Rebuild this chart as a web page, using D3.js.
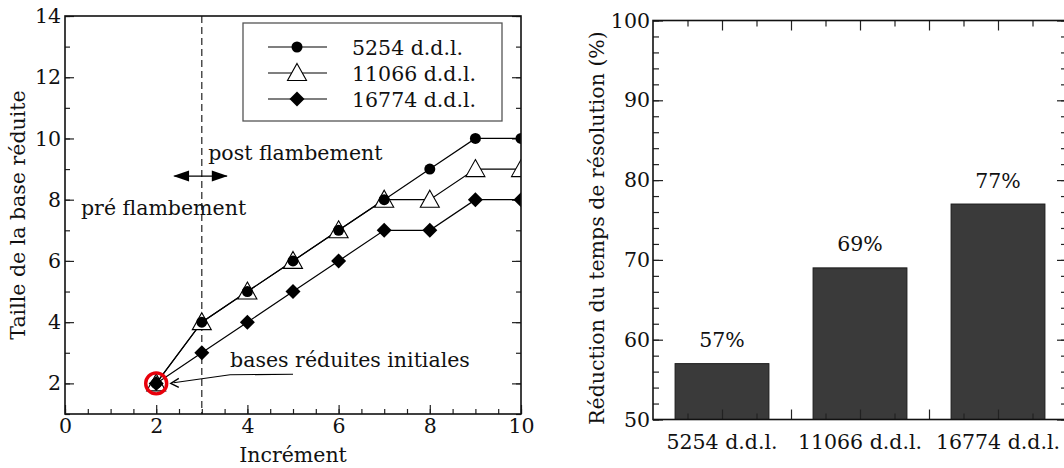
<!DOCTYPE html>
<html>
<head>
<meta charset="utf-8">
<script src="https://cdn.jsdelivr.net/npm/d3@7"></script>
<style>
  body { margin: 0; background: #fff; }
  svg { display: block; }
  text { font-family: "DejaVu Serif", serif; fill: #111; }
</style>
</head>
<body>
<svg id="chart" width="1064" height="468"></svg>
<script>
// left chart: size of the reduced basis per increment
var increments = [2, 3, 4, 5, 6, 7, 8, 9, 10];
var series5254 = [2, 4, 5, 6, 7, 8, 9, 10, 10];
var series11066 = [2, 4, 5, 6, 7, 8, 8, 9, 9];
var series16774 = [2, 3, 4, 5, 6, 7, 7, 8, 8];
var seriesNames = ["5254 d.d.l.", "11066 d.d.l.", "16774 d.d.l."];
var xTicksLeft = [0, 2, 4, 6, 8, 10];
var yTicksLeft = [2, 4, 6, 8, 10, 12, 14];

// right chart: reduction of solving time
var cases = ["5254 d.d.l.", "11066 d.d.l.", "16774 d.d.l."];
var reductions = [57, 69, 77];
var yTicksRight = [50, 60, 70, 80, 90, 100];

var FS = 20.5;
var svg = d3.select("#chart");

// ---------- left plot ----------
var L = { left: 65, right: 521, top: 16, bottom: 414 };

var x = d3.scaleLinear().domain([0, 10]).range([L.left, L.right]);
var y = d3.scaleLinear().domain([1, 14]).range([L.bottom, L.top]);

svg.append("defs").append("clipPath")
  .attr("id", "clipL")
  .append("rect")
  .attr("x", L.left)
  .attr("y", L.top)
  .attr("width", L.right - L.left)
  .attr("height", L.bottom - L.top);

var gl = svg.append("g");

// ticks (inward)
gl.append("g")
  .attr("transform", `translate(0,${L.bottom})`)
  .call(d3.axisBottom(x).tickValues(d3.range(0, 10.01, 0.5)).tickSize(-5).tickFormat(""))
  .call(g => g.select(".domain").remove());
gl.append("g")
  .attr("transform", `translate(0,${L.bottom})`)
  .call(d3.axisBottom(x).tickValues(xTicksLeft).tickSize(-9).tickPadding(4).tickFormat(d3.format("d")))
  .call(g => g.select(".domain").remove());

[L.left, L.right].forEach(function (px, i) {
  var minor = i == 0 ? d3.axisLeft(y) : d3.axisRight(y);
  var major = i == 0 ? d3.axisLeft(y) : d3.axisRight(y);
  gl.append("g")
    .attr("transform", `translate(${px},0)`)
    .call(minor.tickValues(d3.range(1, 14.01, 1)).tickSize(-5).tickFormat(""))
    .call(g => g.select(".domain").remove());
  gl.append("g")
    .attr("transform", `translate(${px},0)`)
    .call(major.tickValues(yTicksLeft).tickSize(-9).tickPadding(4).tickFormat(i == 0 ? d3.format("d") : ""))
    .call(g => g.select(".domain").remove());
});

gl.selectAll(".tick line").attr("stroke", "#222").attr("stroke-width", 1.2);
gl.selectAll(".tick text").attr("font-size", FS).attr("fill", "#111")
  .style("font-family", "DejaVu Serif");

// dashed line at increment 3
gl.append("line")
  .attr("x1", x(3)).attr("x2", x(3))
  .attr("y1", L.top).attr("y2", L.bottom)
  .attr("stroke", "#222")
  .attr("stroke-width", 1.2)
  .attr("stroke-dasharray", "7,4");

// series
var allSeries = [series5254, series11066, series16774];
var line = d3.line()
  .x((d, i) => x(increments[i]))
  .y(d => y(d));

var plot = gl.append("g").attr("clip-path", "url(#clipL)");

allSeries.forEach(function (s) {
  plot.append("path")
    .datum(s)
    .attr("fill", "none")
    .attr("stroke", "#000")
    .attr("stroke-width", 1.2)
    .attr("d", line);
});

var diamond = "M0,-7.5L7.5,0L0,7.5L-7.5,0Z";

function drawMarker(g, kind, cx, cy) {
  if (kind == 0) {
    g.append("circle").attr("cx", cx).attr("cy", cy).attr("r", 5.5).attr("fill", "#000");
  } else if (kind == 1) {
    g.append("path")
      .attr("d", "M0,-9.5L9.5,7.5L-9.5,7.5Z")
      .attr("transform", `translate(${cx},${cy})`)
      .attr("fill", "#fff")
      .attr("stroke", "#000")
      .attr("stroke-width", 1.1);
  } else {
    g.append("path")
      .attr("d", diamond)
      .attr("transform", `translate(${cx},${cy})`)
      .attr("fill", "#000");
  }
}

// triangles under circles, as in the source
[1, 0, 2].forEach(function (k) {
  allSeries[k].forEach(function (v, i) {
    drawMarker(plot, k, x(increments[i]), y(v));
  });
});

// frame (no ticks on top)
gl.append("rect")
  .attr("x", L.left).attr("y", L.top)
  .attr("width", L.right - L.left).attr("height", L.bottom - L.top)
  .attr("fill", "none")
  .attr("stroke", "#111")
  .attr("stroke-width", 1.6);

// legend
var leg = gl.append("g");
leg.append("rect")
  .attr("x", 243).attr("y", 23)
  .attr("width", 259).attr("height", 98)
  .attr("fill", "#fff")
  .attr("stroke", "#555")
  .attr("stroke-width", 1.3);
seriesNames.forEach(function (name, k) {
  var ly = 47 + k * 26;
  leg.append("line")
    .attr("x1", 268).attr("x2", 327)
    .attr("y1", ly).attr("y2", ly)
    .attr("stroke", "#000")
    .attr("stroke-width", 1.2);
  drawMarker(leg, k, 297, ly);
  leg.append("text")
    .attr("x", 352).attr("y", ly + 7.5)
    .attr("font-size", FS)
    .text(name);
});

// annotations
gl.append("text")
  .attr("x", x(3.14)).attr("y", y(9.3))
  .attr("font-size", FS)
  .text("post flambement");
gl.append("text")
  .attr("x", x(0.35)).attr("y", y(7.5))
  .attr("font-size", FS)
  .text("pré flambement");

function arrowHead(g, tx, ty, dir) {
  // dir: +1 pointing right, -1 pointing left
  g.append("path")
    .attr("d", `M${tx},${ty}L${tx - dir * 16},${ty - 5.5}L${tx - dir * 16},${ty + 5.5}Z`)
    .attr("fill", "#000");
}
var ay = y(8.77);
gl.append("line")
  .attr("x1", x(2.4)).attr("x2", x(3.55))
  .attr("y1", ay).attr("y2", ay)
  .attr("stroke", "#000").attr("stroke-width", 1.2);
arrowHead(gl, x(2.37), ay, -1);
arrowHead(gl, x(3.57), ay, 1);

// red circle on initial bases
gl.append("circle")
  .attr("cx", x(2)).attr("cy", y(2))
  .attr("r", 10.5)
  .attr("fill", "none")
  .attr("stroke", "#e8000b")
  .attr("stroke-width", 3.4);

gl.append("text")
  .attr("x", x(3.62)).attr("y", y(2.52))
  .attr("font-size", FS)
  .text("bases réduites initiales");
gl.append("path")
  .attr("d", `M${x(5.0)},${y(2.3)}L${x(3.62)},${y(2.28)}L${x(2.38)},${y(2.02)}`)
  .attr("fill", "none")
  .attr("stroke", "#000")
  .attr("stroke-width", 1.1);
// small open arrow tip
var tx = x(2.32), ty = y(2.0);
gl.append("path")
  .attr("d", `M${tx + 8},${ty - 5}L${tx},${ty}L${tx + 8},${ty + 4}`)
  .attr("fill", "none")
  .attr("stroke", "#000")
  .attr("stroke-width", 1.4);

// axis titles
gl.append("text")
  .attr("x", (L.left + L.right) / 2).attr("y", 462)
  .attr("text-anchor", "middle")
  .attr("font-size", FS)
  .text("Incrément");
gl.append("text")
  .attr("transform", `translate(25,${(L.top + L.bottom) / 2}) rotate(-90)`)
  .attr("text-anchor", "middle")
  .attr("font-size", FS)
  .text("Taille de la base réduite");

// ---------- right plot ----------
var R = { left: 653, right: 1067, top: 20.5, bottom: 419.5 };

var xr = d3.scaleLinear().domain([0.5, 3.5]).range([R.left, R.right]);
var yr = d3.scaleLinear().domain([50, 100]).range([R.bottom, R.top]);
var barW = 0.68;

var gr = svg.append("g");

gr.selectAll("rect.bar")
  .data(reductions)
  .join("rect")
  .attr("class", "bar")
  .attr("x", (d, i) => xr(i + 1 - barW / 2))
  .attr("width", xr(1 + barW) - xr(1))
  .attr("y", d => yr(d))
  .attr("height", d => yr(50) - yr(d))
  .attr("fill", "#3a3a3a")
  .attr("stroke", "#1a1a1a")
  .attr("stroke-width", 1);

gr.selectAll("text.val")
  .data(reductions)
  .join("text")
  .attr("class", "val")
  .attr("x", (d, i) => xr(i + 1))
  .attr("y", d => yr(d + 3) + 7.5)
  .attr("text-anchor", "middle")
  .attr("font-size", FS)
  .text(d => d + "%");

// x ticks top and bottom
[[R.bottom, d3.axisBottom], [R.top, d3.axisTop]].forEach(function (p) {
  gr.append("g")
    .attr("transform", `translate(0,${p[0]})`)
    .call(p[1](xr).tickValues(d3.range(0.75, 3.5, 0.5)).tickSize(-6).tickFormat(""))
    .call(g => g.select(".domain").remove());
  gr.append("g")
    .attr("transform", `translate(0,${p[0]})`)
    .call(p[1](xr).tickValues(d3.range(1, 3.51, 0.5)).tickSize(-10).tickFormat(""))
    .call(g => g.select(".domain").remove());
});

// y ticks left and right
[[R.left, d3.axisLeft, -1], [R.right, d3.axisRight, 1]].forEach(function (p) {
  gr.append("g")
    .attr("transform", `translate(${p[0]},0)`)
    .call(p[1](yr).tickValues(d3.range(50, 100.1, 2)).tickSize(-6).tickFormat(""))
    .call(g => g.select(".domain").remove());
  gr.append("g")
    .attr("transform", `translate(${p[0]},0)`)
    .call(p[1](yr).tickValues(yTicksRight).tickSize(-10).tickPadding(3)
      .tickFormat(p[2] < 0 ? d3.format("d") : ""))
    .call(g => g.select(".domain").remove());
});

// category labels
gr.selectAll("text.cat")
  .data(cases)
  .join("text")
  .attr("class", "cat")
  .attr("x", (d, i) => xr(i + 1))
  .attr("y", 449)
  .attr("text-anchor", "middle")
  .attr("font-size", FS)
  .text(d => d);

gr.selectAll(".tick line").attr("stroke", "#222").attr("stroke-width", 1.2);
gr.selectAll(".tick text").attr("font-size", FS).attr("fill", "#111")
  .style("font-family", "DejaVu Serif");

gr.append("rect")
  .attr("x", R.left).attr("y", R.top)
  .attr("width", R.right - R.left).attr("height", R.bottom - R.top)
  .attr("fill", "none")
  .attr("stroke", "#111")
  .attr("stroke-width", 1.6);

gr.append("text")
  .attr("transform", `translate(604,228) rotate(-90)`)
  .attr("text-anchor", "middle")
  .attr("font-size", FS)
  .text("Réduction du temps de résolution (%)");
</script>
</body>
</html>
